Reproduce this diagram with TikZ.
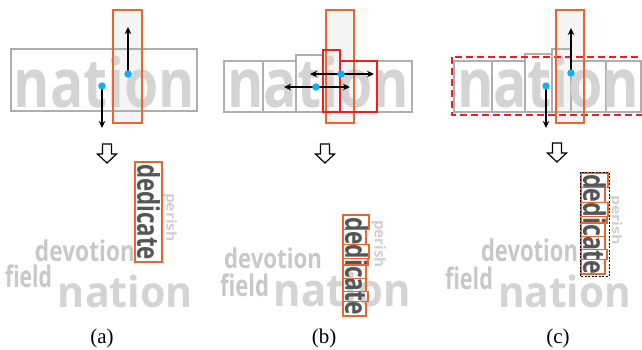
\documentclass[tikz,border=0pt]{standalone}
\usepackage{fontspec}
\setmainfont{Liberation Serif}
\newfontfamily\wordfont{Open Sans}
\usetikzlibrary{arrows.meta}
\definecolor{wordgray}{RGB}{212,212,212}
\definecolor{smallgray}{RGB}{200,200,200}
\definecolor{perishgray}{RGB}{208,208,208}
\definecolor{darkword}{RGB}{85,85,85}
\definecolor{boxgray}{RGB}{175,175,175}
\definecolor{orng}{RGB}{237,100,45}
\definecolor{redbox}{RGB}{240,30,30}
\definecolor{lightfill}{RGB}{245,245,245}
\definecolor{dotcyan}{RGB}{20,175,240}
\newcommand\fitw[3]{\resizebox*{#1pt}{#2pt}{#3}}
\tikzset{
  word/.style={inner sep=0pt, outer sep=0pt, text=wordgray, font=\wordfont\bfseries},
  gbox/.style={draw=boxgray, line width=1.2pt},
  obox/.style={draw=orng, line width=1.2pt},
  rbox/.style={draw=redbox, line width=1.2pt},
  ofill/.style={fill=lightfill},
  arr/.style={line width=1.5pt, -{Stealth[length=7pt,width=6.5pt]}},
  dot/.style={circle, fill=dotcyan, inner sep=0pt, minimum size=7.5pt},
  hollow/.style={draw=black, line width=1.2pt, fill=white, line join=miter},
  captext/.style={inner sep=0pt, font=\fontsize{21}{23}\selectfont}
}
\begin{document}
\begin{tikzpicture}[x=1pt,y=-1pt]
\useasboundingbox (0,0) rectangle (642,349);

% ================= panel (a) =================
\fill[ofill] (113,10) rectangle (142,123);
\draw[gbox] (11,49) rectangle (197,111);
\node[word] (ta) at (104.5,82.5) {\fitw{181}{52}{nation}};
\draw[obox] (113,10) rectangle (142,123);
\coordinate (a1) at (128,74); \coordinate (a1t) at (128,27);
\coordinate (a2) at (102,86); \coordinate (a2t) at (102,128);
\draw[arr] (a1) -- (a1t);
\draw[arr] (a2) -- (a2t);
\node[dot] (a1d) at (a1) {};
\node[dot] (a2d) at (a2) {};
\coordinate (ha) at (107,144);
\draw[hollow] (ha) ++(-4.5,0) -- ++(9,0) -- ++(0,10) -- ++(5,0) -- ++(-9.5,9) -- ++(-9.5,-9) -- ++(5,0) -- cycle;

\node[word, text=smallgray] (adev) at (85,251) {\fitw{100}{22}{devotion}};
\node[word, text=smallgray] (afield) at (28.5,276.5) {\fitw{47}{23}{field}};
\node[word] (anat) at (125.5,291.5) {\fitw{135}{33}{nation}};
\node[word, text=perishgray, rotate=-90] (aper) at (170,217.5) {\fitw{49}{14}{perish}};
\node[word, text=darkword, rotate=-90] (aded) at (148.5,212) {\fitw{96}{23}{dedicate}};
\draw[obox] (135,162) rectangle (162,262);
\node[captext] (capa) at (102,338) {(a)};

% ================= panel (b) =================
\fill[ofill] (326,10) rectangle (354,123);
\draw[gbox] (224,61) rectangle (263,112);
\draw[gbox] (263,61) rectangle (296,112);
\draw[gbox] (296,55) rectangle (323,112);
\draw[gbox] (377,61) rectangle (412,112);
\node[word] (tb) at (318.5,82.5) {\fitw{182}{52}{nation}};
\draw[obox] (326,10) rectangle (354,123);
\draw[rbox] (323,50) rectangle (340,112);
\draw[rbox] (340,61) rectangle (377,112);
\coordinate (b1) at (341,74); \coordinate (b1l) at (310,74); \coordinate (b1r) at (374,74);
\coordinate (b2) at (316,87); \coordinate (b2l) at (284,87); \coordinate (b2r) at (350,87);
\draw[arr] (b1) -- (b1l); \draw[arr] (b1) -- (b1r);
\draw[arr] (b2) -- (b2l); \draw[arr] (b2) -- (b2r);
\node[dot] (b1d) at (b1) {};
\node[dot] (b2d) at (b2) {};
\coordinate (hb) at (325,144);
\draw[hollow] (hb) ++(-4.5,0) -- ++(9,0) -- ++(0,10) -- ++(5,0) -- ++(-9.5,9) -- ++(-9.5,-9) -- ++(5,0) -- cycle;

\node[word, text=smallgray] (bdev) at (273,258.5) {\fitw{98}{21}{devotion}};
\node[word, text=smallgray] (bfield) at (244.5,285.5) {\fitw{49}{23}{field}};
\node[word] (bnat) at (342.5,289.5) {\fitw{137}{35}{nation}};
\node[word, text=perishgray, rotate=-90] (bper) at (378.5,244) {\fitw{48}{15}{perish}};
\node[word, text=darkword, rotate=-90] (bded) at (356.5,266) {\fitw{98}{23}{dedicate}};
\foreach \ya/\yb/\xr in {215/229.3/369, 229.3/244.3/366, 244.3/258.3/369, 258.3/265/368, 265/278.3/366, 278.3/291.7/366, 291.7/301.7/368, 301.7/316/366}
  \draw[obox] (343,\ya) rectangle (\xr,\yb);
\node[captext] (capb) at (324,338) {(b)};

% ================= panel (c) =================
\fill[ofill] (556,10) rectangle (584,123);
\draw[gbox] (454,61) rectangle (492,112);
\draw[gbox] (492,61) rectangle (525,112);
\draw[gbox] (525,54) rectangle (552,112);
\draw[gbox] (552,49) rectangle (571,112);
\draw[gbox] (571,61) rectangle (606,112);
\draw[gbox] (606,61) rectangle (641,112);
\node[word] (tc) at (548.5,82.5) {\fitw{182}{52}{nation}};
\draw[redbox, line width=1.3pt, dash pattern=on 7pt off 4pt] (452,57) rectangle (652,115);
\draw[obox] (556,10) rectangle (584,123);
\coordinate (c1) at (571,73); \coordinate (c1t) at (571,28);
\coordinate (c2) at (546,86); \coordinate (c2t) at (546,128);
\draw[arr] (c1) -- (c1t);
\draw[arr] (c2) -- (c2t);
\node[dot] (c1d) at (c1) {};
\node[dot] (c2d) at (c2) {};
\coordinate (hc) at (557,143);
\draw[hollow] (hc) ++(-4.5,0) -- ++(9,0) -- ++(0,10) -- ++(5,0) -- ++(-9.5,9) -- ++(-9.5,-9) -- ++(5,0) -- cycle;

\node[word, text=smallgray] (cdev) at (529.5,250) {\fitw{97}{23}{devotion}};
\node[word, text=smallgray] (cfield) at (469,278.5) {\fitw{48}{23}{field}};
\node[word] (cnat) at (564.5,291.5) {\fitw{133}{33}{nation}};
\node[word, text=perishgray, rotate=-90] (cper) at (615.5,220) {\fitw{50}{13}{perish}};
\node[word, text=darkword, rotate=-90] (cded) at (594.5,224) {\fitw{100}{23}{dedicate}};
\foreach \ya/\yb/\xr in {173/187.3/608, 187.3/202.3/605, 202.3/216.3/608, 216.3/223/607, 223/236.3/605, 236.3/249.7/605, 249.7/259.7/607, 259.7/274/605}
  \draw[obox] (581,\ya) rectangle (\xr,\yb);
\draw[black, line width=0.8pt, dash pattern=on 2pt off 1.5pt] (580,172) rectangle (609,276);
\node[captext] (capc) at (558,338) {(c)};
\end{tikzpicture}
\end{document}
